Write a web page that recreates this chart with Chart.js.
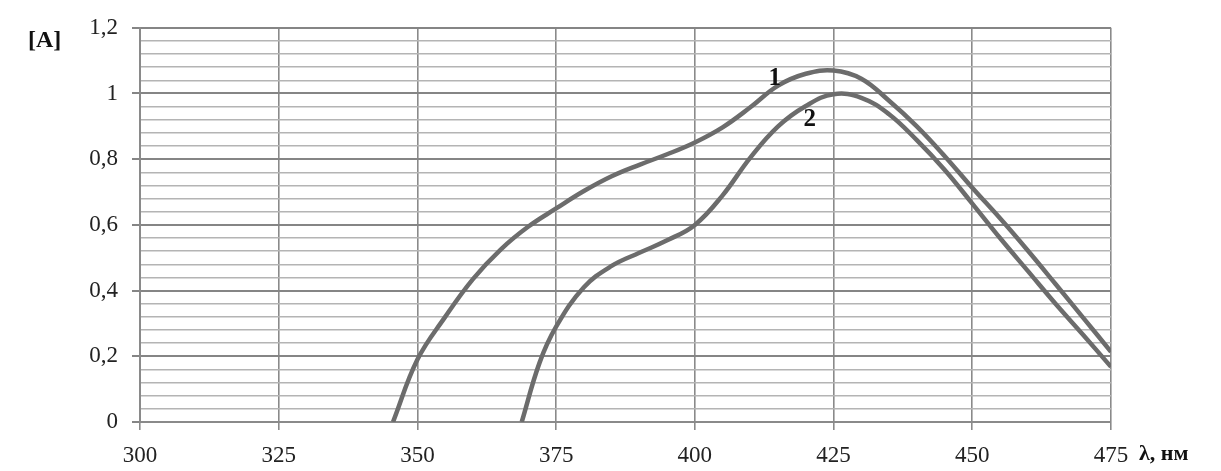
<!DOCTYPE html>
<html>
<head>
<meta charset="utf-8">
<script src="https://cdn.jsdelivr.net/npm/chart.js@4"></script>
<style>
html,body{margin:0;padding:0;background:#fff;}
#wrap{width:1221px;height:471px;position:relative;}
</style>
</head>
<body>
<div id="wrap"><canvas id="c" width="1221" height="471"></canvas></div>
<script>
// wavelength (nm) and absorbance for curve 1
const wl1 = [345.6, 350, 355, 360, 365, 370, 375, 380, 385, 390, 395, 400, 405, 410, 415, 420, 425, 430, 435, 440, 445, 450, 455, 460, 465, 470, 475];
const abs1 = [0, 0.19, 0.32, 0.435, 0.525, 0.595, 0.65, 0.703, 0.748, 0.783, 0.815, 0.851, 0.897, 0.958, 1.024, 1.06, 1.07, 1.045, 0.978, 0.90, 0.81, 0.713, 0.62, 0.522, 0.42, 0.317, 0.214];
// curve 2
const wl2 = [368.8, 372, 375, 380, 385, 390, 395, 400, 405, 410, 415, 420, 425, 430, 435, 440, 445, 450, 455, 460, 465, 470, 475];
const abs2 = [0, 0.18, 0.29, 0.41, 0.475, 0.515, 0.553, 0.60, 0.69, 0.805, 0.90, 0.962, 0.998, 0.987, 0.937, 0.858, 0.768, 0.665, 0.56, 0.46, 0.36, 0.265, 0.168];
const curveLabels = ["1", "2"];
const labelPos = [[414.4, 1.047], [420.7, 0.92]];
const yAxisTitle = "[A]";
const xAxisTitle = "λ, нм";

const toPts = (xs, ys) => xs.map((x, i) => ({x: x, y: ys[i]}));
const isMajor = v => Math.abs(v / 0.2 - Math.round(v / 0.2)) < 1e-6;
const fmt = v => (Math.round(v * 10) / 10).toString().replace('.', ',');

const labelsPlugin = {
  id: 'labels',
  afterDatasetsDraw(chart) {
    const ctx = chart.ctx;
    const xs = chart.scales.x, ys = chart.scales.y;
    ctx.save();
    ctx.fillStyle = '#111';
    ctx.textAlign = 'center';
    ctx.textBaseline = 'middle';
    ctx.font = 'bold 25px "Liberation Serif", "DejaVu Serif", serif';
    curveLabels.forEach((t, i) => {
      ctx.fillText(t, xs.getPixelForValue(labelPos[i][0]), ys.getPixelForValue(labelPos[i][1]));
    });
    ctx.font = 'bold 24px "Liberation Serif", serif';
    ctx.textAlign = 'left';
    ctx.fillText(yAxisTitle, 28, 41);
    ctx.font = 'bold 22px "Liberation Serif", serif';
    ctx.fillText(xAxisTitle, 1139, 454);
    ctx.restore();
  }
};

new Chart(document.getElementById('c'), {
  type: 'line',
  data: {
    datasets: [
      {data: toPts(wl1, abs1), borderColor: '#6c6c6c', borderWidth: 4.5, pointRadius: 0, tension: 0.4, fill: false},
      {data: toPts(wl2, abs2), borderColor: '#6c6c6c', borderWidth: 4.5, pointRadius: 0, tension: 0.4, fill: false}
    ]
  },
  options: {
    responsive: false,
    animation: false,
    events: [],
    layout: {padding: {top: 27, right: 110, left: 0, bottom: 0}},
    plugins: {legend: {display: false}, tooltip: {enabled: false}},
    scales: {
      x: {
        type: 'linear', min: 300, max: 475,
        ticks: {stepSize: 25, color: '#222', font: {family: '"Liberation Serif", serif', size: 23}, padding: 12, maxRotation: 0},
        grid: {color: '#8a8a8a', lineWidth: 1.6, tickLength: 8, tickColor: '#8a8a8a'},
        border: {color: '#8a8a8a', width: 2},
        afterFit(s) { s.height = 49; }
      },
      y: {
        min: 0, max: 1.2,
        ticks: {stepSize: 0.04, autoSkip: false, color: '#222', font: {family: '"Liberation Serif", serif', size: 23}, padding: 14,
          callback: v => isMajor(v) ? fmt(v) : ''},
        grid: {
          color: c => isMajor(c.tick.value) ? '#858585' : '#b4b4b4',
          lineWidth: c => isMajor(c.tick.value) ? 2 : 1.6,
          tickLength: 8,
          tickColor: c => isMajor(c.tick.value) ? '#858585' : 'rgba(0,0,0,0)'
        },
        border: {color: '#8a8a8a', width: 2},
        afterFit(s) { s.width = 140; }
      }
    }
  },
  plugins: [labelsPlugin]
});
</script>
</body>
</html>
